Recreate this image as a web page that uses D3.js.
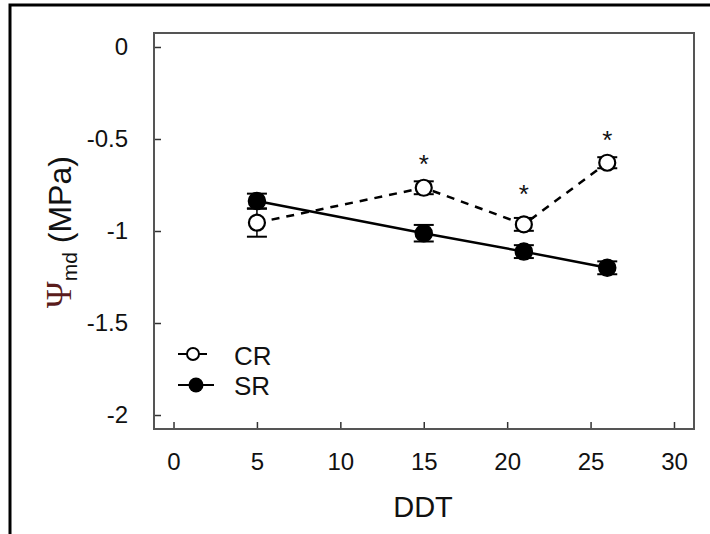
<!DOCTYPE html>
<html>
<head>
<meta charset="utf-8">
<script src="https://cdn.jsdelivr.net/npm/d3@7/dist/d3.min.js"></script>
<style>
  html, body { margin: 0; padding: 0; background: #fff; }
  svg { display: block; }
  text { font-family: Arial, "Liberation Sans", sans-serif; fill: #111; }
</style>
</head>
<body>
<svg id="chart" width="710" height="534"></svg>
<script>
// ---- data ----
const ddt = [5, 15, 21, 26];
const crValues = [-0.955, -0.765, -0.964, -0.629];
const crErrors = [0.076, 0.035, 0.035, 0.03];
const srValues = [-0.837, -1.012, -1.112, -1.200];
const srErrors = [0.04, 0.045, 0.035, 0.035];
const starDdt = [15, 21, 26];
const starLevel = [-0.61, -0.773, -0.478];
const xTicks = [0, 5, 10, 15, 20, 25, 30];
const yTicks = [0, -0.5, -1, -1.5, -2];
const yTickLabels = ["0", "-0.5", "-1", "-1.5", "-2"];
const seriesNames = ["CR", "SR"];

const svg = d3.select("#chart");

// outer frame
svg.append("rect")
  .attr("x", 10).attr("y", 5).attr("width", 720).attr("height", 560)
  .attr("fill", "none").attr("stroke", "#000").attr("stroke-width", 3);

const x = d3.scaleLinear().domain([-1.17, 31.2]).range([154, 694]);
const y = d3.scaleLinear().domain([0.076, -2.076]).range([33, 429]);

// axes (ticks inward)
const yAxis = d3.axisLeft(y).tickValues(yTicks)
  .tickFormat((d, i) => yTickLabels[i]).tickSize(-7).tickPadding(26);
const gy = svg.append("g").attr("transform", "translate(154,0)").call(yAxis);
gy.select(".domain").remove();
gy.selectAll(".tick line").attr("stroke", "#333").attr("stroke-width", 1.5);
gy.selectAll(".tick text").attr("font-size", 24).attr("fill", "#111")
  .attr("font-family", "Arial, 'Liberation Sans', sans-serif");

const xAxis = d3.axisBottom(x).tickValues(xTicks).tickSize(-7).tickPadding(24);
const gx = svg.append("g").attr("transform", "translate(0,429)").call(xAxis);
gx.select(".domain").remove();
gx.selectAll(".tick line").attr("stroke", "#333").attr("stroke-width", 1.5);
gx.selectAll(".tick text").attr("font-size", 24).attr("fill", "#111")
  .attr("font-family", "Arial, 'Liberation Sans', sans-serif");

// plot box
svg.append("rect")
  .attr("x", x.range()[0]).attr("y", y.range()[0])
  .attr("width", x.range()[1] - x.range()[0])
  .attr("height", y.range()[1] - y.range()[0])
  .attr("fill", "none").attr("stroke", "#555").attr("stroke-width", 2);

// axis titles
svg.append("text").attr("x", 423).attr("y", 517)
  .attr("text-anchor", "middle").attr("font-size", 29).text("DDT");

const yl = svg.append("text")
  .attr("transform", "translate(71,232) rotate(-90)")
  .attr("text-anchor", "middle").attr("font-size", 32);
yl.append("tspan").attr("font-family", "'Liberation Serif', 'Times New Roman', serif")
  .attr("fill", "#5a1c1c").attr("font-size", 36).text("\u03A8");
yl.append("tspan").attr("font-size", 21).attr("dy", 6).text("md");
yl.append("tspan").attr("dy", -6).text(" (MPa)");

const crData = ddt.map((d, i) => ({ x: d, v: crValues[i], e: crErrors[i] }));
const srData = ddt.map((d, i) => ({ x: d, v: srValues[i], e: srErrors[i] }));

const line = d3.line().x(d => x(d.x)).y(d => y(d.v));

// lines
svg.append("path").datum(crData).attr("d", line)
  .attr("fill", "none").attr("stroke", "#000").attr("stroke-width", 2.5)
  .attr("stroke-dasharray", "8,7");
svg.append("path").datum(srData).attr("d", line)
  .attr("fill", "none").attr("stroke", "#000").attr("stroke-width", 2.5);

function errorBars(data) {
  const g = svg.append("g").attr("stroke", "#000").attr("stroke-width", 1.5);
  data.forEach(d => {
    g.append("line").attr("x1", x(d.x)).attr("x2", x(d.x))
      .attr("y1", y(d.v + d.e)).attr("y2", y(d.v - d.e));
    [d.v + d.e, d.v - d.e].forEach(v => {
      g.append("line").attr("x1", x(d.x) - 10).attr("x2", x(d.x) + 10)
        .attr("y1", y(v)).attr("y2", y(v)).attr("stroke-width", 2);
    });
  });
}
errorBars(srData);
errorBars(crData);

svg.append("g").selectAll("circle").data(srData).join("circle")
  .attr("cx", d => x(d.x)).attr("cy", d => y(d.v)).attr("r", 8.5)
  .attr("fill", "#000").attr("stroke", "#000").attr("stroke-width", 1.5);
svg.append("g").selectAll("circle").data(crData).join("circle")
  .attr("cx", d => x(d.x)).attr("cy", d => y(d.v)).attr("r", 8)
  .attr("fill", "#fff").attr("stroke", "#000").attr("stroke-width", 2.2);

// significance stars
svg.append("g").selectAll("text").data(starDdt).join("text")
  .attr("x", d => x(d)).attr("y", (d, i) => y(starLevel[i]) + 14)
  .attr("text-anchor", "middle").attr("font-size", 26).text("*");

// legend
const lg = svg.append("g");
lg.append("line").attr("x1", 178).attr("x2", 207).attr("y1", 354).attr("y2", 354)
  .attr("stroke", "#000").attr("stroke-width", 2);
lg.append("circle").attr("cx", 193).attr("cy", 354).attr("r", 6)
  .attr("fill", "#fff").attr("stroke", "#000").attr("stroke-width", 2);
lg.append("line").attr("x1", 178).attr("x2", 214).attr("y1", 385).attr("y2", 385)
  .attr("stroke", "#000").attr("stroke-width", 2);
lg.append("circle").attr("cx", 196).attr("cy", 385).attr("r", 7.5)
  .attr("fill", "#000");
lg.selectAll("text.lab").data(seriesNames).join("text").attr("class", "lab")
  .attr("x", 234).attr("y", (d, i) => 365 + i * 30)
  .attr("font-size", 26).text(d => d);
</script>
</body>
</html>
